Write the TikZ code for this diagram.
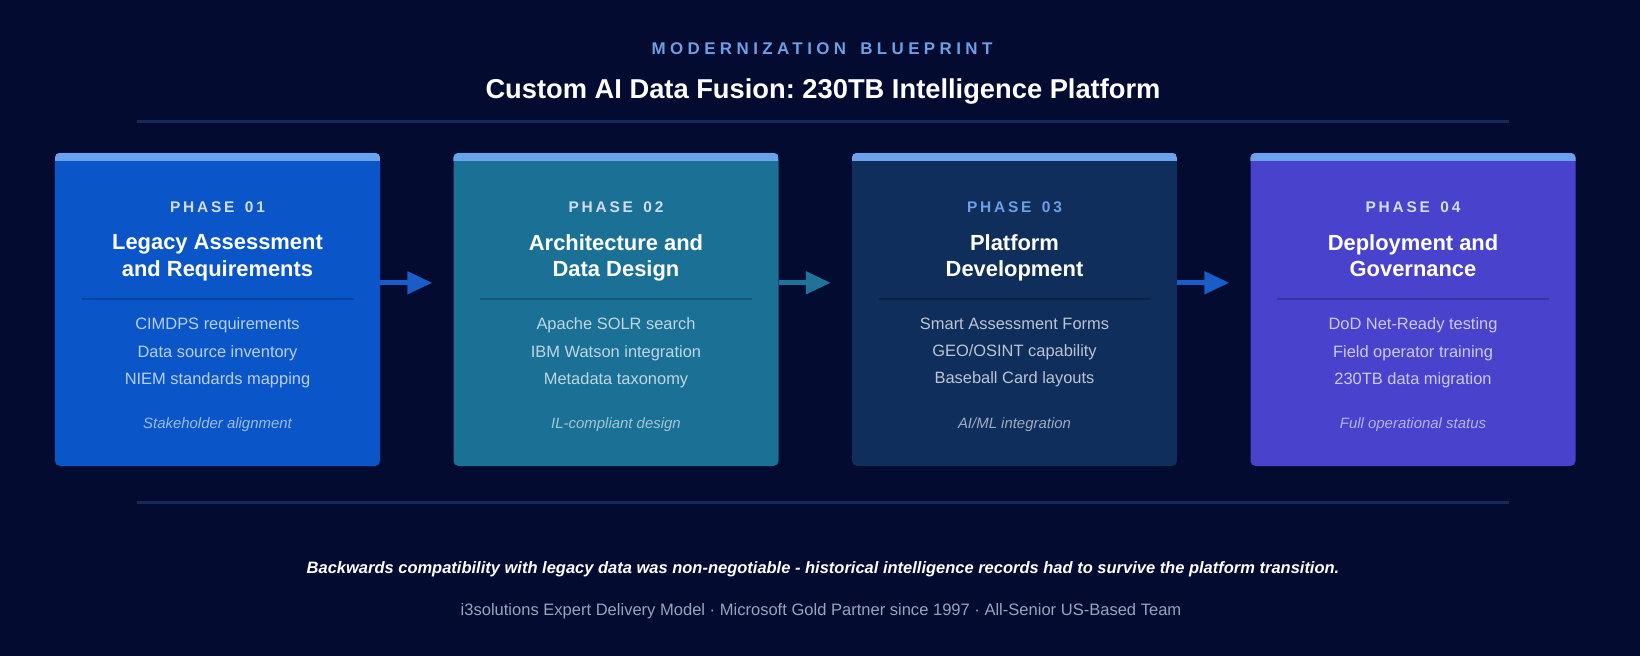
\documentclass[tikz,border=0pt]{standalone}
\usepackage{fontspec}
\setmainfont{Liberation Sans}
\usetikzlibrary{arrows.meta,calc}
\frenchspacing
\definecolor{bg}{HTML}{030B30}
\definecolor{rulec}{HTML}{1A2858}
\definecolor{accent}{HTML}{6E9FE6}
\definecolor{bar}{HTML}{6AA2EE}
\definecolor{cA}{HTML}{0A56C8}
\definecolor{cB}{HTML}{1B7096}
\definecolor{cC}{HTML}{0F2E5C}
\definecolor{cD}{HTML}{4842CC}
\definecolor{arA}{HTML}{1A5CC8}
\definecolor{arB}{HTML}{1F7298}
\definecolor{foot}{HTML}{9AA2BC}
\definecolor{phaselt}{HTML}{D2DCF2}
\newcommand{\fsz}[2]{\fontsize{#1}{#2}\selectfont}
\tikzset{
  box/.style={minimum width=325bp, minimum height=313bp, rounded corners=5bp, inner sep=0pt, draw=none},
  phaselbl/.style={font=\fsz{15.5}{18}\bfseries\addfontfeature{LetterSpace=18}, inner sep=0pt},
  ttl/.style={font=\fsz{22}{27}\bfseries, text=white, align=center, inner sep=0pt, anchor=north},
  items/.style={font=\fsz{16.5}{27.5}, text=white, text opacity=0.72, align=center, inner sep=0pt, anchor=north},
  note/.style={font=\fsz{15}{18}\itshape, text=white, text opacity=0.6, inner sep=0pt},
  divider/.style={draw=black, draw opacity=0.22, line width=1.5bp},
  hrule/.style={draw=rulec, line width=3bp},
  flow/.style={line width=5bp, -{Triangle[length=25bp,width=22bp]}},
}
\newcommand{\phasebox}[8]{%
  \node[box, fill=#3] (#1) at (#2,309.5) {};
  \begin{scope}
    \clip[rounded corners=5bp] (#1.south west) rectangle (#1.north east);
    \fill[bar] (#1.north west) rectangle ([yshift=-8bp]#1.north east);
  \end{scope}
  \node[phaselbl, text=#4] (#1p) at (#2,207) {PHASE\hspace{3.5bp} #5};
  \node[ttl] (#1t) at (#2,234) {#6};
  \draw[divider] (#2-136,299) -- (#2+136,299);
  \node[items] (#1i) at (#2,317.5) {#7};
  \node[note] (#1n) at (#2,425) {#8};
}
\begin{document}
\begin{tikzpicture}[x=1bp,y=-1bp]
\fill[bg] (0,0) rectangle (1640,656);
\useasboundingbox (0,0) rectangle (1640,656);

\node[font=\fsz{17}{20}\bfseries\addfontfeature{LetterSpace=26}, text=accent, inner sep=0pt] (kick) at (822,49) {MODERNIZATION\hspace{5bp} BLUEPRINT};
\node[font=\fsz{27.4}{32}\bfseries, text=white, inner sep=0pt] (title) at (823,92) {Custom AI Data Fusion: 230TB Intelligence Platform};
\draw[hrule] (137,122) -- (1509,122);

\phasebox{b1}{217.5}{cA}{phaselt}{01}{Legacy Assessment\\and Requirements}{CIMDPS requirements\\Data source inventory\\NIEM standards mapping}{Stakeholder alignment}
\phasebox{b2}{616}{cB}{phaselt}{02}{Architecture and\\Data Design}{Apache SOLR search\\IBM Watson integration\\Metadata taxonomy}{IL-compliant design}
\phasebox{b3}{1014.5}{cC}{accent}{03}{Platform\\Development}{Smart Assessment Forms\\GEO/OSINT capability\\Baseball Card layouts}{AI/ML integration}
\phasebox{b4}{1413}{cD}{phaselt}{04}{Deployment and\\Governance}{DoD Net-Ready testing\\Field operator training\\230TB data migration}{Full operational status}

\draw[flow, draw=arA] ([yshift=-130bp]b1.north east) -- ([yshift=-130bp,xshift=-21bp]b2.north west);
\draw[flow, draw=arB] ([yshift=-130bp]b2.north east) -- ([yshift=-130bp,xshift=-21bp]b3.north west);
\draw[flow, draw=arA] ([yshift=-130bp]b3.north east) -- ([yshift=-130bp,xshift=-21bp]b4.north west);

\draw[hrule] (137,502) -- (1509,502);
\node[font=\fsz{16.55}{20}\bfseries\itshape, text=white, inner sep=0pt] (quote) at (823,569) {Backwards compatibility with legacy data was non-negotiable - historical intelligence records had to survive the platform transition.};
\node[font=\fsz{16.6}{20}, text=foot, inner sep=0pt] (footer) at (821,611) {i3solutions Expert Delivery Model · Microsoft Gold Partner since 1997 · All-Senior US-Based Team};
\end{tikzpicture}
\end{document}
